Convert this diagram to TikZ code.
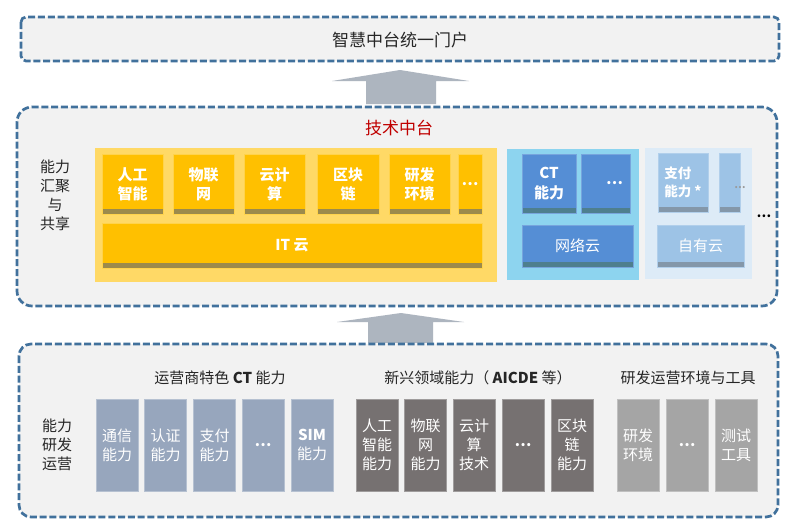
\documentclass[tikz,border=0pt]{standalone}
\usepackage{fontspec}
\setmainfont{Noto Sans CJK SC}
\definecolor{panelgray}{HTML}{F2F2F2}
\definecolor{bord}{HTML}{41719C}
\definecolor{ypanel}{HTML}{FFD966}
\definecolor{gold}{HTML}{FFC000}
\definecolor{goldstrip}{HTML}{9C8A4C}
\definecolor{cpanel}{HTML}{8DD4EF}
\definecolor{bbox}{HTML}{558ED5}
\definecolor{bstrip}{HTML}{4E7F8E}
\definecolor{lpanel}{HTML}{DDEBF7}
\definecolor{lbox}{HTML}{9DC3E6}
\definecolor{lstrip}{HTML}{8497A9}
\definecolor{gbbox}{HTML}{97A6BD}
\definecolor{dgbox}{HTML}{767171}
\definecolor{lgbox}{HTML}{A5A5A5}
\definecolor{arrowc}{HTML}{ADB5BF}
\definecolor{titlered}{HTML}{C00000}
\definecolor{txt}{HTML}{262626}
\tikzset{
  dashbox/.style={draw=bord, line width=2.7pt, dash pattern=on 7pt off 2.8pt, fill=panelgray},
  stripbox/.style={path picture={\fill[#1] (path picture bounding box.south west) rectangle ([yshift=5pt]path picture bounding box.south east);}},
  ybox/.style={fill=gold, draw=gold!70!white, line width=0.6pt, stripbox=goldstrip, text=white, font=\fontsize{15}{19}\selectfont\bfseries, align=center},
  cbox/.style={fill=bbox, draw=bbox!80!white, line width=0.6pt, stripbox=bstrip, text=white, font=\fontsize{15}{20}\selectfont\bfseries, align=center},
  lbbox/.style={fill=lbox, draw=lbox!80!white, line width=0.6pt, stripbox=lstrip, text=white, font=\fontsize{13.5}{18}\selectfont\bfseries, align=left},
  colbox/.style={fill=#1, draw=#1!70!white, line width=0.8pt, text=white, font=\fontsize{15}{19}\selectfont, align=center, inner sep=0pt, minimum width=42pt, minimum height=92pt},
  lbl/.style={text=txt, font=\fontsize{15}{19}\selectfont, align=center, inner sep=0pt},
  uparrow/.style={fill=arrowc, draw=none},
}
\begin{document}
\begin{tikzpicture}[x=1pt, y=-1pt]
\useasboundingbox[fill=white] (0,0) rectangle (808,530);

% ---------- top box ----------
\draw[dashbox, rounded corners=5pt] (21,17) rectangle (779,61);
\node[text=txt, font=\fontsize{17}{20}\selectfont, inner sep=0pt] (portal) at (400,40) {智慧中台统一门户};

% ---------- arrows ----------
\fill[uparrow] (332,81) -- (400,70) -- (469,81) -- (436,81) -- (436,104) -- (366,104) -- (366,81) -- cycle;
\fill[uparrow] (337,322) -- (401,313) -- (464,322) -- (433,322) -- (433,343) -- (368,343) -- (368,322) -- cycle;

% ---------- middle box ----------
\draw[dashbox, rounded corners=15pt] (17,107) rectangle (777,306);
\node[text=titlered, font=\fontsize{17}{20}\selectfont, inner sep=0pt] (tech) at (399,128) {技术中台};
\node[lbl] (share) at (55,195) {能力\\汇聚\\与\\共享};

% yellow panel
\fill[ypanel] (95,148) rectangle (497,282);
\node[ybox, minimum width=61pt, minimum height=60pt, inner sep=0pt] (ai) at (132.5,184) {人工\\智能};
\node[ybox, minimum width=61pt, minimum height=60pt, inner sep=0pt] (iot) at (203.5,184) {物联\\网};
\node[ybox, minimum width=61pt, minimum height=60pt, inner sep=0pt] (cloud) at (274.5,184) {云计\\算};
\node[ybox, minimum width=62pt, minimum height=60pt, inner sep=0pt] (chain) at (348,184) {区块\\链};
\node[ybox, minimum width=61pt, minimum height=60pt, inner sep=0pt] (dev) at (419.5,184) {研发\\环境};
\node[ybox, minimum width=24pt, minimum height=60pt, inner sep=0pt] (ymore) at (470,184) {…};
\node[ybox, minimum width=380pt, minimum height=45pt, inner sep=0pt] (itcloud) at (292,245.5) {IT 云};

% cyan panel
\fill[cpanel] (507,149) rectangle (639,280);
\node[cbox, minimum width=54pt, minimum height=59pt, inner sep=0pt] (ct) at (549,183.5) {CT\\能力};
\node[cbox, minimum width=49pt, minimum height=59pt, inner sep=0pt] (cmore) at (605.5,183.5) {\hspace*{18pt}…};
\node[cbox, minimum width=111pt, minimum height=42pt, inner sep=0pt, font=\fontsize{15}{19}\selectfont] (netcloud) at (577.5,246) {网络云};

% light panel
\fill[lpanel] (645,148) rectangle (752,279);
\node[lbbox, minimum width=50pt, minimum height=59pt, inner sep=0pt] (pay) at (683,182.5) {支付\\能力 *};
\node[lbbox, minimum width=21pt, minimum height=59pt, inner sep=0pt] (lmore) at (729.5,182.5) {};
\node[text=gray!80, font=\fontsize{10}{12}\selectfont\bfseries, inner sep=0pt] (lmoredots) at (740,188) {…};
\node[lbbox, minimum width=87pt, minimum height=42pt, inner sep=0pt, align=center, font=\fontsize{15}{19}\selectfont] (owncloud) at (700.5,246) {自有云};
\node[text=black, font=\fontsize{13}{15}\selectfont\bfseries, inner sep=0pt] (outmore) at (764,216) {…};

% ---------- bottom box ----------
\draw[dashbox, rounded corners=12pt] (19,344) rectangle (778,517);
\node[lbl] (rd) at (57,445) {能力\\研发\\运营};
\node[lbl] (h1) at (220,378) {运营商特色 \textbf{CT} 能力};
\node[lbl] (h2) at (478,378) {新兴领域能力（ \textbf{AICDE} 等）};
\node[lbl] (h3) at (688,378) {研发运营环境与工具};

\node[colbox=gbbox] (comm) at (117,445) {通信\\能力};
\node[colbox=gbbox] (auth) at (165.5,445) {认证\\能力};
\node[colbox=gbbox] (payb) at (214.5,445) {支付\\能力};
\node[colbox=gbbox, font=\fontsize{15}{19}\selectfont\bfseries] (gbmore) at (263,445) {…};
\node[colbox=gbbox] (sim) at (312,445) {\textbf{SIM}\\能力};

\node[colbox=dgbox] (aib) at (377,445) {人工\\智能\\能力};
\node[colbox=dgbox] (iotb) at (425.5,445) {物联\\网\\能力};
\node[colbox=dgbox] (cloudb) at (474,445) {云计\\算\\技术};
\node[colbox=dgbox, font=\fontsize{15}{19}\selectfont\bfseries] (dgmore) at (523,445) {…};
\node[colbox=dgbox] (chainb) at (572,445) {区块\\链\\能力};

\node[colbox=lgbox] (devenv) at (638,445) {研发\\环境};
\node[colbox=lgbox, font=\fontsize{15}{19}\selectfont\bfseries] (lgmore) at (687,445) {…};
\node[colbox=lgbox] (test) at (736,445) {测试\\工具};
\end{tikzpicture}
\end{document}
